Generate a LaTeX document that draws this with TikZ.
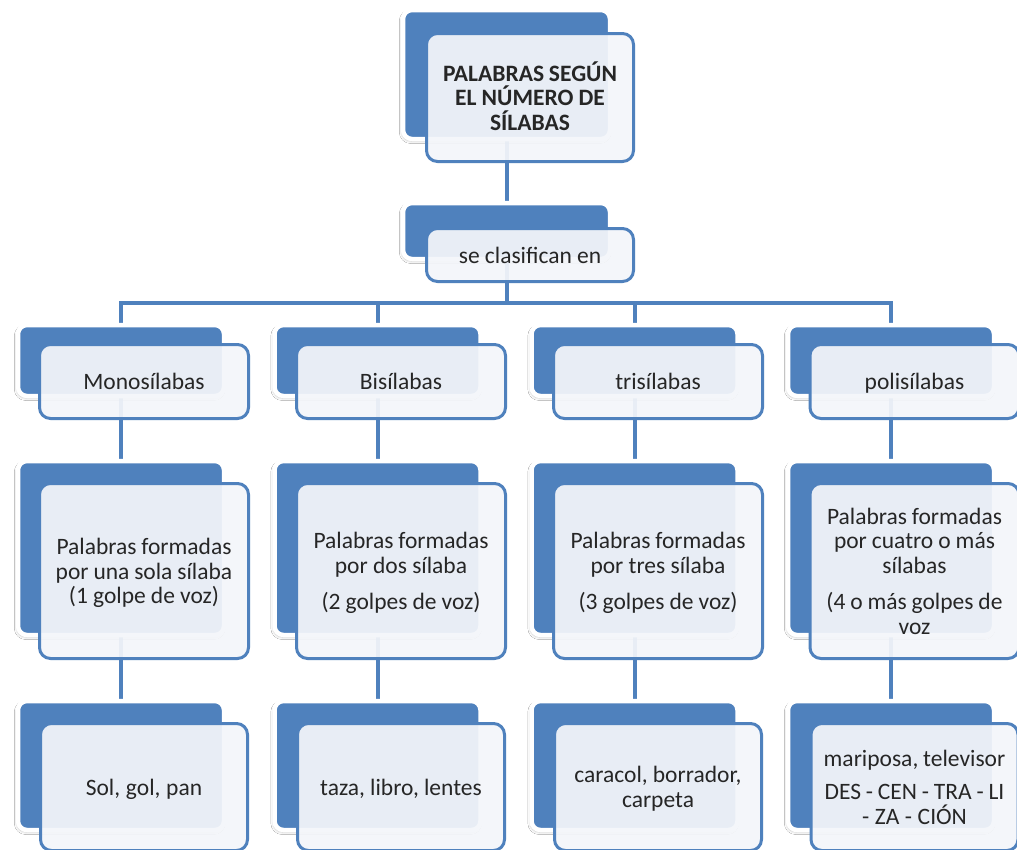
\documentclass[tikz,border=0pt]{standalone}
\usepackage{fontspec}
\setmainfont{Carlito}
\usetikzlibrary{shadows.blur}
\definecolor{acc}{HTML}{4F81BD}
\definecolor{lite}{HTML}{F4F6FA}
\definecolor{ink}{HTML}{262626}
\newcommand\topstrut{\rule{0pt}{22pt}}
\newcommand\botstrut{\rule[-6pt]{0pt}{6pt}}
\newcommand\tightspace{\spaceskip=4.6pt plus 1pt minus 1pt\relax}
\tikzset{
  backbox/.style={fill=acc, draw=white, line width=4.5pt, rounded corners=9pt,
    inner sep=0pt,
    blur shadow={shadow xshift=-1.2pt, shadow yshift=-2pt, shadow blur radius=2.5pt, shadow opacity=25}},
  frontbox/.style={fill=lite, fill opacity=0.93, text opacity=1, draw=acc, line width=3pt,
    rounded corners=11pt, inner sep=2pt, align=center, text=ink, draw opacity=1,
    font=\fontsize{23.5}{24.5}\selectfont,
    execute at begin node={\tightspace\topstrut}, execute at end node=\botstrut},
  conn/.style={draw=acc, line width=4pt},
}
\begin{document}
\begin{tikzpicture}[x=1pt,y=-1pt]
\useasboundingbox (0,0) rectangle (1017,849);
\fill[white] (0,0) rectangle (1017,849);
\clip (0,0) rectangle (1017,849);
\coordinate (h) at (0,303);
% centres of the back boxes
\coordinate (tbc) at (506.5,74.5);
\coordinate (cbc) at (506.5,231);
\coordinate (m1c) at (121,360.5);
\coordinate (m2c) at (377.5,360.5);
\coordinate (m3c) at (634.5,360.5);
\coordinate (m4c) at (891,360.5);
\coordinate (d1c) at (121,548);
\coordinate (d2c) at (377.5,548);
\coordinate (d3c) at (634.5,548);
\coordinate (d4c) at (891,548);
\coordinate (e1c) at (121,765.5);
\coordinate (e2c) at (377.5,765.5);
\coordinate (e3c) at (634.5,765.5);
\coordinate (e4c) at (891,765.5);

% ---- connectors (behind the boxes) ----
\draw[conn] (tbc) -- (cbc);
\draw[conn] (cbc) -- (cbc |- h) -| (m1c);
\draw[conn] (cbc |- h) -| (m4c);
\draw[conn] (m2c |- h) -- (m2c);
\draw[conn] (m3c |- h) -- (m3c);
\foreach \i in {1,2,3,4}{
  \draw[conn] (m\i c) -- (d\i c) -- (e\i c);
}

% ---- back boxes ----
\node[backbox, minimum width=207, minimum height=129] (tb) at (tbc) {};
\node[backbox, minimum width=207, minimum height=56] (cb) at (cbc) {};
\foreach \i in {1,2,3,4}{
  \node[backbox, minimum width=206, minimum height=71] (m\i b) at (m\i c) {};
  \node[backbox, minimum width=206, minimum height=174] (d\i b) at (d\i c) {};
  \node[backbox, minimum width=206, minimum height=129] (e\i b) at (e\i c) {};
}

% ---- front boxes ----
\node[frontbox, minimum width=207, minimum height=128, text width=200] (t) at (530,97.5)
  {\bfseries PALABRAS SEGÚN\\EL NÚMERO DE\\SÍLABAS};
\node[frontbox, minimum width=207, minimum height=53, text width=200] (c) at (530,255)
  {se clasifican en};

\node[frontbox, minimum width=209, minimum height=74, text width=200] (m1) at (144,381.5) {Monosílabas};
\node[frontbox, minimum width=209, minimum height=74, text width=200] (m2) at (401,381.5) {Bisílabas};
\node[frontbox, minimum width=209, minimum height=74, text width=200] (m3) at (658,381.5) {trisílabas};
\node[frontbox, minimum width=209, minimum height=74, text width=200] (m4) at (914.5,381.5) {polisílabas};

\node[frontbox, minimum width=209, minimum height=175, text width=200] (d1) at (144,571)
  {Palabras formadas\\por una sola sílaba\\(1 golpe de voz)};
\node[frontbox, minimum width=209, minimum height=175, text width=200] (d2) at (401,571)
  {Palabras formadas\\por dos sílaba\\[12pt](2 golpes de voz)};
\node[frontbox, minimum width=209, minimum height=175, text width=200] (d3) at (658,571)
  {Palabras formadas\\por tres sílaba\\[12pt](3 golpes de voz)};
\node[frontbox, minimum width=209, minimum height=175, text width=200] (d4) at (914.5,571)
  {Palabras formadas\\por cuatro o más\\sílabas\\[12pt](4 o más golpes de\\voz};

\node[frontbox, minimum width=207, minimum height=127, text width=200] (e1) at (144,787) {Sol, gol, pan};
\node[frontbox, minimum width=207, minimum height=127, text width=200] (e2) at (401,787) {taza, libro, lentes};
\node[frontbox, minimum width=207, minimum height=127, text width=200] (e3) at (658,787)
  {caracol, borrador,\\carpeta};
\node[frontbox, minimum width=207, minimum height=127, text width=200] (e4) at (914.5,787)
  {mariposa, televisor\\[9pt]DES - CEN - TRA - LI\\- ZA - CIÓN};
\end{tikzpicture}
\end{document}
